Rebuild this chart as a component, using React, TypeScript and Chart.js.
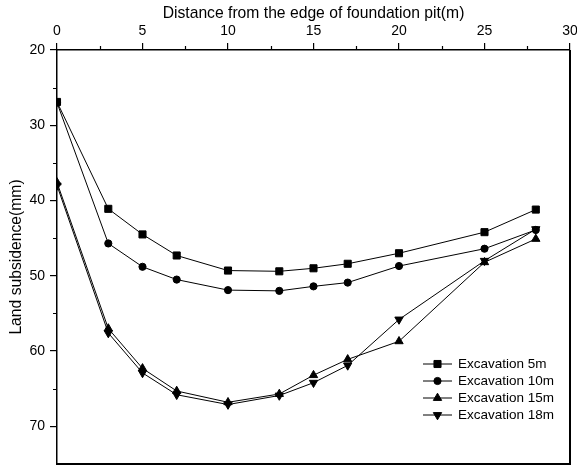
import React, { useEffect, useRef } from 'react';
import { Chart, registerables } from 'chart.js';

Chart.register(...registerables);

const distances = [0, 3, 5, 7, 10, 13, 15, 17, 20, 25, 28];
const seriesLabels = ['Excavation 5m', 'Excavation 10m', 'Excavation 15m', 'Excavation 18m'];
const exc5 = [26.9, 41.1, 44.5, 47.3, 49.3, 49.4, 49.0, 48.4, 47.0, 44.2, 41.2];
const exc10 = [27.0, 45.7, 48.8, 50.5, 51.9, 52.0, 51.4, 50.9, 48.7, 46.4, 43.9];
const exc15 = [37.6, 57.0, 62.3, 65.3, 66.8, 65.7, 63.2, 61.1, 58.7, 48.2, 45.1];
const exc18 = [38.0, 57.6, 62.9, 65.8, 67.1, 65.9, 64.2, 61.9, 55.8, 48.0, 43.8];
const xTicks = [0, 5, 10, 15, 20, 25, 30];
const xMinorTicks = [2.5, 7.5, 12.5, 17.5, 22.5, 27.5];
const yTicks = [20, 30, 40, 50, 60, 70];
const yMinorTicks = [25, 35, 45, 55, 65];

const FONT = "'Liberation Sans', Arial, sans-serif";
const markerStyles = ['rect', 'circle', 'triangle', 'triangle'];
const markerRotations = [0, 0, 0, 180];
const markerRadii = [5, 3.6, 4.8, 4.8];

function drawMarker(ctx: CanvasRenderingContext2D, style: string, r: number, rot: number, x: number, y: number) {
  ctx.beginPath();
  if (style === 'rect') {
    const s = r * Math.SQRT1_2;
    ctx.rect(x - s, y - s, 2 * s, 2 * s);
  } else if (style === 'circle') {
    ctx.arc(x, y, r, 0, Math.PI * 2);
  } else {
    let rad = (rot * Math.PI) / 180;
    ctx.moveTo(x + Math.sin(rad) * r, y - Math.cos(rad) * r);
    rad += (2 * Math.PI) / 3;
    ctx.lineTo(x + Math.sin(rad) * r, y - Math.cos(rad) * r);
    rad += (2 * Math.PI) / 3;
    ctx.lineTo(x + Math.sin(rad) * r, y - Math.cos(rad) * r);
    ctx.closePath();
  }
  ctx.fill();
  ctx.stroke();
}

const framePlugin = {
  id: 'frame',
  afterDraw(chart: any) {
    const { ctx, chartArea: a, scales } = chart;
    const xs = scales.x;
    const ys = scales.y;
    ctx.save();
    ctx.strokeStyle = '#000';
    ctx.lineWidth = 2;
    ctx.beginPath();
    ctx.moveTo(a.right, a.top);
    ctx.lineTo(a.right, a.bottom);
    ctx.moveTo(a.left - 1, a.bottom);
    ctx.lineTo(a.right + 1, a.bottom);
    ctx.stroke();
    ctx.lineWidth = 1.2;
    ctx.beginPath();
    xMinorTicks.forEach((v) => {
      const px = Math.round(xs.getPixelForValue(v)) + 0.5;
      ctx.moveTo(px, a.top);
      ctx.lineTo(px, a.top - 4);
    });
    yMinorTicks.forEach((v) => {
      const py = Math.round(ys.getPixelForValue(v)) + 0.5;
      ctx.moveTo(a.left, py);
      ctx.lineTo(a.left - 4, py);
    });
    ctx.stroke();

    // legend
    const lx0 = 423;
    const lx1 = 452;
    const rows = [364, 381, 398, 415];
    ctx.font = `13.5px ${FONT}`;
    ctx.textBaseline = 'middle';
    ctx.textAlign = 'left';
    ctx.fillStyle = '#000';
    seriesLabels.forEach((label, i) => {
      const y = rows[i];
      ctx.lineWidth = 1;
      ctx.beginPath();
      ctx.moveTo(lx0, y);
      ctx.lineTo(lx1, y);
      ctx.stroke();
      drawMarker(ctx, markerStyles[i], markerRadii[i], markerRotations[i], (lx0 + lx1) / 2, y);
      ctx.fillText(label, 458, y + 0.5);
    });
    ctx.restore();
  },
};

export default function App() {
  const ref = useRef<HTMLCanvasElement | null>(null);
  useEffect(() => {
    document.body.style.margin = '0';
    const canvas = ref.current!;
    const allSeries = [exc5, exc10, exc15, exc18];
    const chart = new Chart(canvas, {
      type: 'line',
      data: {
        datasets: allSeries.map((s, i) => ({
          label: seriesLabels[i],
          data: distances.map((d, j) => ({ x: d, y: s[j] })),
          borderColor: '#000',
          backgroundColor: '#000',
          borderWidth: 1,
          tension: 0,
          pointStyle: markerStyles[i] as any,
          pointRotation: markerRotations[i],
          pointRadius: markerRadii[i],
          pointBorderWidth: 1,
          pointBorderColor: '#000',
          pointBackgroundColor: '#000',
          fill: false,
        })),
      },
      options: {
        responsive: false,
        animation: false,
        devicePixelRatio: 1,
        layout: { padding: { left: 0, right: 30, top: 0, bottom: 2 } },
        plugins: { legend: { display: false }, tooltip: { enabled: false } },
        scales: {
          x: {
            type: 'linear',
            position: 'top',
            min: 0,
            max: 30,
            afterBuildTicks: (s: any) => {
              s.ticks = xTicks.map((v) => ({ value: v }));
            },
            afterFit: (s: any) => {
              s.height = 50;
              s.paddingTop = 0;
              s.paddingBottom = 0;
            },
            ticks: { color: '#000', font: { family: FONT, size: 14 }, padding: 3, maxRotation: 0 },
            grid: { drawOnChartArea: false, drawTicks: true, tickLength: 7, color: '#000', lineWidth: 1.2 },
            border: { display: true, color: '#000', width: 1.5 },
            title: {
              display: true,
              text: 'Distance from the edge of foundation pit(m)',
              color: '#000',
              font: { family: FONT, size: 15.7 },
              padding: { top: 4, bottom: 0 },
            },
          },
          y: {
            type: 'linear',
            reverse: true,
            min: 20,
            max: 75,
            afterBuildTicks: (s: any) => {
              s.ticks = yTicks.map((v) => ({ value: v }));
            },
            afterFit: (s: any) => {
              s.width = 57;
              s.paddingTop = 0;
              s.paddingBottom = 0;
            },
            ticks: { color: '#000', font: { family: FONT, size: 14 }, padding: 5 },
            grid: { drawOnChartArea: false, drawTicks: true, tickLength: 7, color: '#000', lineWidth: 1.2 },
            border: { display: true, color: '#000', width: 1.5 },
            title: {
              display: true,
              text: 'Land subsidence(mm)',
              color: '#000',
              font: { family: FONT, size: 15.7 },
              padding: { top: 7, bottom: 0 },
            },
          },
        },
      },
      plugins: [framePlugin],
    });
    return () => chart.destroy();
  }, []);
  return (
    <div style={{ position: 'fixed', left: 0, top: 0, width: 577, height: 466, overflow: 'hidden', background: '#fff' }}>
      <canvas ref={ref} width={600} height={470} style={{ display: 'block' }} />
    </div>
  );
}
